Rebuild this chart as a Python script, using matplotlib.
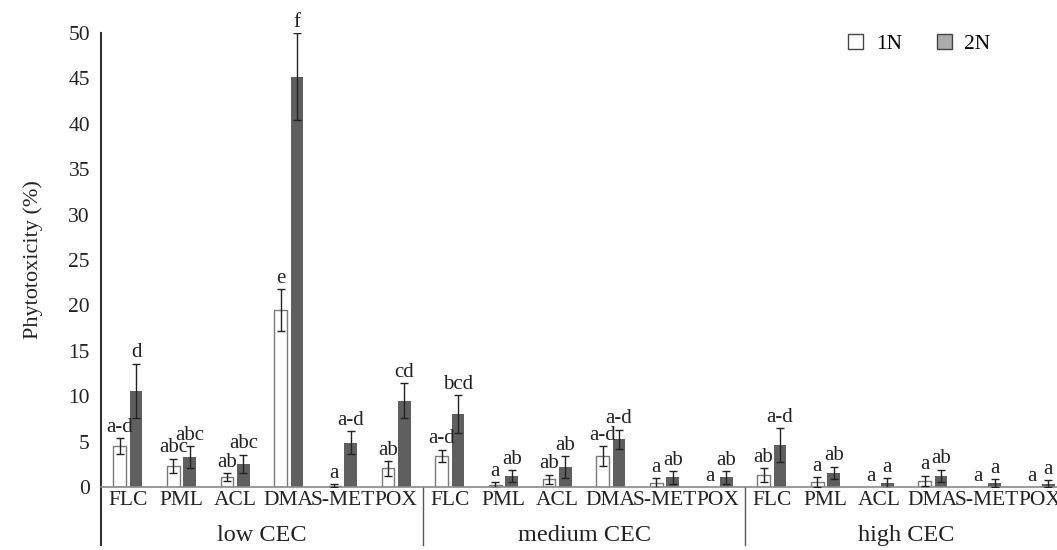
import numpy as np
import matplotlib.pyplot as plt
from matplotlib.patches import Patch

plt.rcParams['font.family'] = ['Liberation Serif', 'DejaVu Serif']

# datos
herbicidas = ['FLC', 'PML', 'ACL', 'DMA', 'S-MET', 'POX']
grupos = ['low CEC', 'medium CEC', 'high CEC']

n1 = [4.5, 2.3, 1.07, 19.5, 0.15, 2.05,
      3.4, 0.2, 0.85, 3.4, 0.45, 0.0,
      1.3, 0.55, 0.0, 0.66, 0.0, 0.0]
n1_err = [0.9, 0.8, 0.45, 2.3, 0.15, 0.8,
          0.7, 0.3, 0.5, 1.1, 0.55, 0.0,
          0.75, 0.5, 0.0, 0.6, 0.0, 0.0]
n2 = [10.6, 3.3, 2.57, 45.2, 4.9, 9.5,
      8.0, 1.2, 2.2, 5.25, 1.07, 1.07,
      4.6, 1.55, 0.45, 1.2, 0.45, 0.35]
n2_err = [3.0, 1.2, 1.0, 4.75, 1.25, 1.9,
          2.1, 0.65, 1.2, 1.05, 0.7, 0.7,
          1.9, 0.7, 0.55, 0.7, 0.4, 0.4]

n1_let = ['a-d', 'abc', 'ab', 'e', 'a', 'ab',
          'a-d', 'a', 'ab', 'a-d', 'a', 'a',
          'ab', 'a', 'a', 'a', 'a', 'a']
n2_let = ['d', 'abc', 'abc', 'f', 'a-d', 'cd',
          'bcd', 'ab', 'ab', 'a-d', 'ab', 'ab',
          'a-d', 'ab', 'a', 'ab', 'a', 'a']

n1 = np.array(n1); n1_err = np.array(n1_err)
n2 = np.array(n2); n2_err = np.array(n2_err)

fig = plt.figure(figsize=(10.57, 5.5), dpi=100)
ax = fig.add_axes([101/1057, 63/550, 966/1057, 454/550])

x = np.arange(len(n1)) + 0.5
w = 0.237
d = 0.153

ax.bar(x - d, n1, w, color='white', edgecolor='#7a7a7a', linewidth=1, zorder=2)
ax.bar(x + d, n2, w, color='#5f5f5f', edgecolor='none', zorder=2)

m = n1_err > 0
ax.errorbar(x[m] - d, n1[m], yerr=n1_err[m], fmt='none', ecolor='#222222',
            elinewidth=1, capsize=3, capthick=1, zorder=3)
ax.errorbar(x + d, n2, yerr=n2_err, fmt='none', ecolor='#222222',
            elinewidth=1, capsize=3, capthick=1, zorder=3)

for i in range(len(x)):
    ax.text(x[i] - d, n1[i] + n1_err[i] + 0.15, n1_let[i], ha='center', va='bottom',
            fontsize=15, color='#222222')
    ax.text(x[i] + d, n2[i] + n2_err[i] + 0.15, n2_let[i], ha='center', va='bottom',
            fontsize=15, color='#222222')

ax.set_xlim(0, len(x))
ax.set_ylim(0, 50)
ax.set_yticks(np.arange(0, 51, 5))
ax.tick_params(axis='y', length=0, labelsize=15.5, pad=8, colors='#222222')
ax.set_xticks(x)
ax.set_xticklabels(herbicidas * len(grupos), fontsize=15.5, color='#222222')
ax.tick_params(axis='x', length=0, pad=3)

for s in ['top', 'right']:
    ax.spines[s].set_visible(False)
ax.spines['bottom'].set_color('#8a8a8a')
ax.spines['bottom'].set_linewidth(1.2)
ax.spines['left'].set_color('#333333')
ax.spines['left'].set_linewidth(1.5)
ax.spines['left'].set_bounds(0, 50)

# separadores de grupo y etiquetas
trans = ax.get_xaxis_transform()
nh = len(herbicidas)
for g in range(len(grupos) + 1):
    ax.plot([g * nh, g * nh], [0, -0.128], transform=trans, color='#555555' if g else '#333333',
            lw=1.5 if g == 0 else 1, clip_on=False)
for g, nombre in enumerate(grupos):
    ax.text(g * nh + nh / 2, -0.107, nombre, transform=trans, ha='center', va='center',
            fontsize=17.5, color='#222222')

ax.set_ylabel('Phytotoxicity (%)', fontsize=16, color='#222222', labelpad=18)

handles = [Patch(facecolor='white', edgecolor='#444444', lw=1),
           Patch(facecolor='#ababab', edgecolor='#444444', lw=1)]
ax.legend(handles, ['1N', '2N'], loc='upper right', bbox_to_anchor=(1010/1057, 535/550),
          bbox_transform=fig.transFigure, ncol=2, frameon=False, fontsize=15.5,
          handlelength=0.7, handleheight=0.7, handletextpad=0.6, columnspacing=1.6)

fig.savefig('out.png', dpi=100)
